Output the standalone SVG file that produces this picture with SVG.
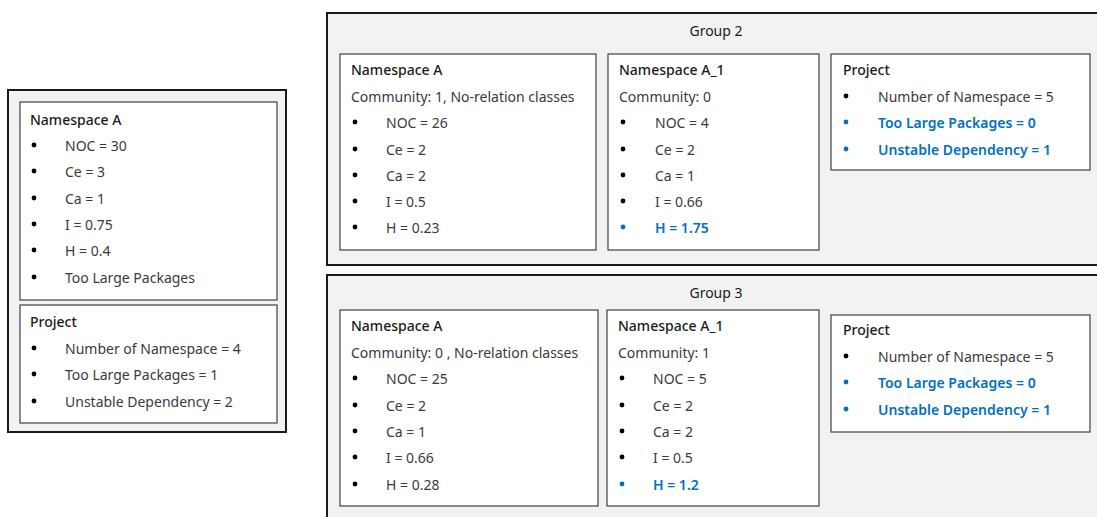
<svg xmlns="http://www.w3.org/2000/svg" width="1097" height="517" viewBox="0 0 1097 517">
<style>
  .outer { fill: #f2f2f2; stroke: #1a1a1a; stroke-width: 2; }
  .box { fill: #ffffff; stroke: #404040; stroke-width: 1.2; }
  text { font-family: "Noto Sans", "Open Sans", sans-serif; font-size: 14px; fill: #3a3a3a; }
  .title { fill: #1a1a1a; font-weight: 500; }
  .hl { fill: #0070c0; font-weight: 600; }
  .dot { fill: #000; }
  .dot.blue { fill: #0070c0; }
</style>
<rect width="1097" height="517" fill="#ffffff"/>

<!-- Single namespace summary -->
<g id="left-panel">
  <rect class="outer" x="8" y="90" width="278" height="342"/>
  <g id="left-namespace">
    <rect class="box" x="20" y="102" width="257" height="198"/>
    <text class="title" x="30" y="125">Namespace A</text>
    <circle class="dot" cx="34" cy="145" r="2.4"/><text x="65" y="151">NOC = 30</text>
    <circle class="dot" cx="34" cy="171" r="2.4"/><text x="65" y="177">Ce = 3</text>
    <circle class="dot" cx="34" cy="198" r="2.4"/><text x="65" y="204">Ca = 1</text>
    <circle class="dot" cx="34" cy="224" r="2.4"/><text x="65" y="230">I = 0.75</text>
    <circle class="dot" cx="34" cy="250" r="2.4"/><text x="65" y="256">H = 0.4</text>
    <circle class="dot" cx="34" cy="277" r="2.4"/><text x="65" y="283">Too Large Packages</text>
  </g>
  <g id="left-project">
    <rect class="box" x="20" y="305" width="257" height="118"/>
    <text class="title" x="30" y="327">Project</text>
    <circle class="dot" cx="34" cy="348" r="2.4"/><text x="65" y="354">Number of Namespace = 4</text>
    <circle class="dot" cx="34" cy="374" r="2.4"/><text x="65" y="380">Too Large Packages = 1</text>
    <circle class="dot" cx="34" cy="401" r="2.4"/><text x="65" y="407">Unstable Dependency = 2</text>
  </g>
</g>

<!-- Group 2 -->
<g id="group2">
  <rect class="outer" x="327" y="13" width="775" height="252"/>
  <text class="title" x="716" y="36" text-anchor="middle" style="font-weight:400">Group 2</text>
  <g id="g2-namespace-a">
    <rect class="box" x="340" y="54" width="256" height="196"/>
    <text class="title" x="351" y="75">Namespace A</text>
    <text x="351" y="102">Community: 1, No-relation classes</text>
    <circle class="dot" cx="355" cy="122" r="2.4"/><text x="386" y="128">NOC = 26</text>
    <circle class="dot" cx="355" cy="149" r="2.4"/><text x="386" y="155">Ce = 2</text>
    <circle class="dot" cx="355" cy="175" r="2.4"/><text x="386" y="181">Ca = 2</text>
    <circle class="dot" cx="355" cy="201" r="2.4"/><text x="386" y="207">I = 0.5</text>
    <circle class="dot" cx="355" cy="227" r="2.4"/><text x="386" y="233">H = 0.23</text>
  </g>
  <g id="g2-namespace-a1">
    <rect class="box" x="608" y="54" width="211" height="196"/>
    <text class="title" x="619" y="75">Namespace A_1</text>
    <text x="619" y="102">Community: 0</text>
    <circle class="dot" cx="623" cy="122" r="2.4"/><text x="655" y="128">NOC = 4</text>
    <circle class="dot" cx="623" cy="149" r="2.4"/><text x="655" y="155">Ce = 2</text>
    <circle class="dot" cx="623" cy="175" r="2.4"/><text x="655" y="181">Ca = 1</text>
    <circle class="dot" cx="623" cy="201" r="2.4"/><text x="655" y="207">I = 0.66</text>
    <circle class="dot blue" cx="623" cy="227" r="2.4"/><text class="hl" x="655" y="233">H = 1.75</text>
  </g>
  <g id="g2-project">
    <rect class="box" x="831" y="54" width="259" height="116"/>
    <text class="title" x="843" y="75">Project</text>
    <circle class="dot" cx="846" cy="96" r="2.4"/><text x="878" y="102">Number of Namespace = 5</text>
    <circle class="dot blue" cx="846" cy="122" r="2.4"/><text class="hl" x="878" y="128">Too Large Packages = 0</text>
    <circle class="dot blue" cx="846" cy="149" r="2.4"/><text class="hl" x="878" y="155">Unstable Dependency = 1</text>
  </g>
</g>

<!-- Group 3 -->
<g id="group3">
  <rect class="outer" x="327" y="275" width="775" height="250"/>
  <text class="title" x="716" y="298" text-anchor="middle" style="font-weight:400">Group 3</text>
  <g id="g3-namespace-a">
    <rect class="box" x="340" y="310" width="258" height="196"/>
    <text class="title" x="351" y="331">Namespace A</text>
    <text x="351" y="358">Community: 0 , No-relation classes</text>
    <circle class="dot" cx="355" cy="378" r="2.4"/><text x="386" y="384">NOC = 25</text>
    <circle class="dot" cx="355" cy="405" r="2.4"/><text x="386" y="411">Ce = 2</text>
    <circle class="dot" cx="355" cy="431" r="2.4"/><text x="386" y="437">Ca = 1</text>
    <circle class="dot" cx="355" cy="457" r="2.4"/><text x="386" y="463">I = 0.66</text>
    <circle class="dot" cx="355" cy="484" r="2.4"/><text x="386" y="490">H = 0.28</text>
  </g>
  <g id="g3-namespace-a1">
    <rect class="box" x="607" y="310" width="212" height="196"/>
    <text class="title" x="618" y="331">Namespace A_1</text>
    <text x="618" y="358">Community: 1</text>
    <circle class="dot" cx="622" cy="378" r="2.4"/><text x="653" y="384">NOC = 5</text>
    <circle class="dot" cx="622" cy="405" r="2.4"/><text x="653" y="411">Ce = 2</text>
    <circle class="dot" cx="622" cy="431" r="2.4"/><text x="653" y="437">Ca = 2</text>
    <circle class="dot" cx="622" cy="457" r="2.4"/><text x="653" y="463">I = 0.5</text>
    <circle class="dot blue" cx="622" cy="484" r="2.4"/><text class="hl" x="653" y="490">H = 1.2</text>
  </g>
  <g id="g3-project">
    <rect class="box" x="831" y="315" width="259" height="117"/>
    <text class="title" x="843" y="335">Project</text>
    <circle class="dot" cx="846" cy="356" r="2.4"/><text x="878" y="362">Number of Namespace = 5</text>
    <circle class="dot blue" cx="846" cy="382" r="2.4"/><text class="hl" x="878" y="388">Too Large Packages = 0</text>
    <circle class="dot blue" cx="846" cy="409" r="2.4"/><text class="hl" x="878" y="415">Unstable Dependency = 1</text>
  </g>
</g>

<!-- no connectors in this figure -->
<g id="connectors"/>
</svg>
